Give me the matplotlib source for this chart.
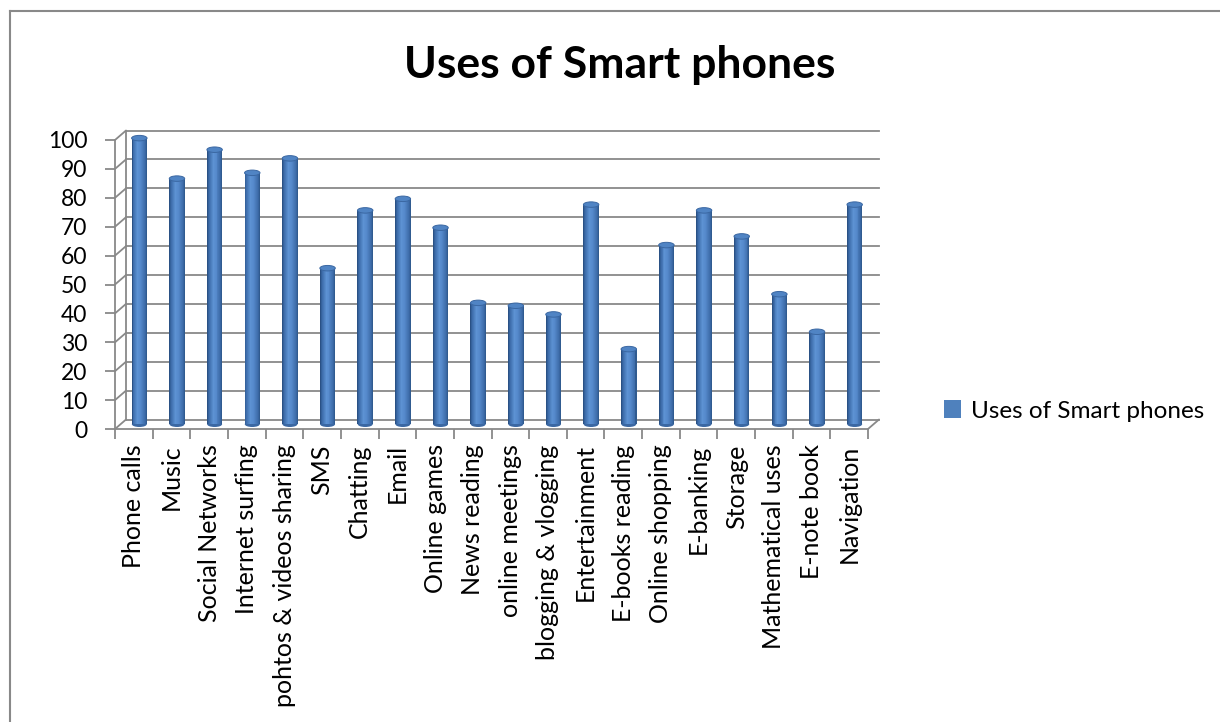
import matplotlib
matplotlib.use("Agg")
import matplotlib.pyplot as plt
import numpy as np
from matplotlib.transforms import ScaledTranslation
from matplotlib.patches import Ellipse, ConnectionPatch, Patch
from matplotlib.lines import Line2D
from matplotlib.colors import to_rgb

# data
categories = ["Phone calls", "Music", "Social Networks", "Internet surfing",
              "pohtos & videos sharing", "SMS", "Chatting", "Email", "Online games",
              "News reading", "online meetings", "blogging & vlogging", "Entertainment",
              "E-books reading", "Online shopping", "E-banking", "Storage",
              "Mathematical uses", "E-note book", "Navigation"]
values = [99, 85, 95, 87, 92, 54, 74, 78, 68, 42, 41, 38, 76, 26, 62, 74, 65, 45, 32, 76]
y_ticks = list(range(0, 101, 10))
series_name = "Uses of Smart phones"
title = "Uses of Smart phones"

plt.rcParams["font.family"] = ["Lato", "DejaVu Sans"]

W, H = 1220, 722
fig = plt.figure(figsize=(W / 100, H / 100), dpi=100)
ax = fig.add_axes([115 / W, (H - 429) / H, (868 - 115) / W, (429 - 140) / H])
ax.patch.set_alpha(0)

grid = "#898989"
n = len(categories)
x = np.arange(n)

# fake 3d depth: back wall and middle (where the bars stand)
back = ax.transData + ScaledTranslation(0.11, 0.095, fig.dpi_scale_trans)
mid = ax.transData + ScaledTranslation(0.055, 0.0475, fig.dpi_scale_trans)

# back wall gridlines + side wall diagonals
for v in y_ticks:
    ax.plot([-0.5, n - 0.5], [v, v], color=grid, lw=1.3, transform=back, clip_on=False, zorder=1)
    ax.add_artist(ConnectionPatch((-0.5, v), (-0.5, v), coordsA=ax.transData, coordsB=back,
                                  color=grid, lw=1.3, zorder=1))
ax.plot([-0.5, -0.5], [0, 100], color=grid, lw=1.3, transform=back, clip_on=False, zorder=1)
ax.add_artist(ConnectionPatch((n - 0.5, 0), (n - 0.5, 0), coordsA=ax.transData, coordsB=back,
                              color=grid, lw=1.3, zorder=1))

# cylinder shading across the bar width
def shade(t):
    stops = [(0.0, "#24497a"), (0.12, "#3a69a6"), (0.4, "#5d92d3"), (0.6, "#5589cb"),
             (0.88, "#3d6ba8"), (1.0, "#2c5587")]
    for (t0, c0), (t1, c1) in zip(stops[:-1], stops[1:]):
        if t0 <= t <= t1:
            a = (t - t0) / (t1 - t0)
            return tuple((1 - a) * np.array(to_rgb(c0)) + a * np.array(to_rgb(c1)))
    return to_rgb(stops[-1][1])

bar_w = 0.41
cap_h = 1.9
n_s = 16
for xi in x:
    ax.add_patch(Ellipse((xi, 0), bar_w * 0.97, cap_h, transform=mid, facecolor="#3b68a3",
                         edgecolor="none", zorder=2, clip_on=False))
for k in range(n_s):
    off = -bar_w / 2 + (k + 0.5) * bar_w / n_s
    ax.bar(x + off, values, width=bar_w / n_s * 1.08, color=shade((k + 0.5) / n_s),
           linewidth=0, transform=mid, clip_on=False, zorder=3)
for xi, v in zip(x, values):
    ax.add_patch(Ellipse((xi, v), bar_w, cap_h, transform=mid, facecolor="#5084c4",
                         edgecolor="#3a67a2", lw=0.7, zorder=4, clip_on=False))

ax.set_xlim(-0.5, n - 0.5)
ax.set_ylim(0, 100)

for s in ["top", "right"]:
    ax.spines[s].set_visible(False)
for s in ["left", "bottom"]:
    ax.spines[s].set_color(grid)
    ax.spines[s].set_linewidth(1.3)

ax.set_yticks(y_ticks)
ax.tick_params(axis="y", direction="out", length=7, width=1.3, color=grid, pad=13,
               labelsize=16.5)
ax.set_xticks(x)
ax.set_xticklabels(categories, rotation=90, fontsize=18)
ax.set_xticks(np.arange(n + 1) - 0.5, minor=True)
ax.tick_params(axis="x", which="major", length=0, pad=11)
ax.tick_params(axis="x", which="minor", direction="out", length=7, width=1.3, color=grid)

fig.text(620 / W, (H - 78) / H, title, ha="center", va="baseline", fontsize=32,
         fontweight="bold")

fig.legend(handles=[Patch(facecolor="#4f81bd")], labels=[series_name], loc="center left",
           bbox_to_anchor=(922 / W, (H - 411) / H), frameon=False, fontsize=17.5,
           handlelength=0.72, handleheight=0.72, handletextpad=0.4)

# chart border (cropped on the right and bottom)
fig.add_artist(Line2D([10 / W, 10 / W], [0, (H - 11) / H], transform=fig.transFigure,
                      color=grid, lw=1.5))
fig.add_artist(Line2D([10 / W, 1], [(H - 11) / H, (H - 11) / H], transform=fig.transFigure,
                      color=grid, lw=1.5))

fig.savefig("out.png", dpi=100)
